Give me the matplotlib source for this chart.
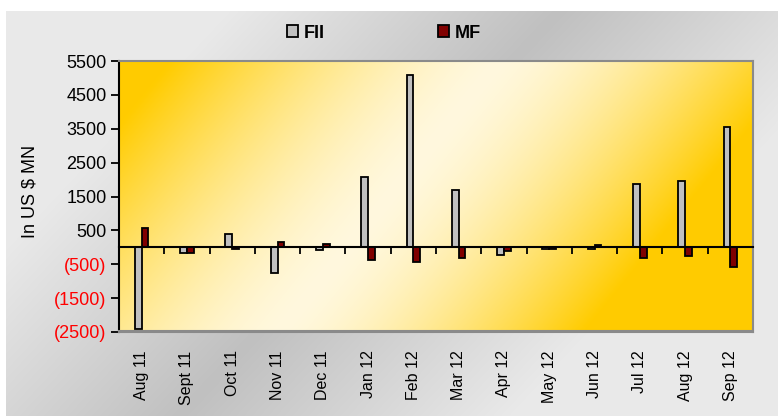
import numpy as np
import matplotlib.pyplot as plt
from matplotlib.patches import Rectangle

plt.rcParams['font.family'] = ['Liberation Sans', 'DejaVu Sans']

months = ['Aug 11', 'Sept 11', 'Oct 11', 'Nov 11', 'Dec 11', 'Jan 12', 'Feb 12',
          'Mar 12', 'Apr 12', 'May 12', 'Jun 12', 'Jul 12', 'Aug 12', 'Sep 12']
fii = [-2410, -170, 380, -750, -70, 2070, 5100, 1700, -240, -50, -50, 1870, 1970, 3560]
mf = [570, -180, -60, 160, 110, -380, -430, -330, -120, -50, 60, -330, -270, -570]
yticks = [5500, 4500, 3500, 2500, 1500, 500, -500, -1500, -2500]

W, H = 778, 416


def band_gradient(x0, x1, y0, y1, p, q, c_mid, c_edge, d_neg, d_pos, power=1.0):
    # linear "diagonal" gradient in pixel space: c_mid on the line p-q, c_edge away from it
    X, Y = np.meshgrid(np.arange(x0, x1) + 0.5, np.arange(y0, y1) + 0.5)
    dx, dy = q[0] - p[0], q[1] - p[1]
    n = np.array([-dy, dx], float)
    n /= np.hypot(*n)
    if n[0] < 0:
        n = -n
    d = (X - p[0]) * n[0] + (Y - p[1]) * n[1]
    t = np.where(d < 0, -d / d_neg, d / d_pos).clip(0, 1) ** power
    c_mid = np.array(c_mid) / 255
    c_edge = np.array(c_edge) / 255
    return c_mid + (c_edge - c_mid) * t[..., None]


fig = plt.figure(figsize=(W / 100, H / 100), dpi=100, facecolor='white')

# grey panel behind everything
bg = fig.add_axes([6 / W, 0, 1 - 6 / W, 1 - 11 / H], zorder=-1)
bg.axis('off')
bg.imshow(band_gradient(6, W, 11, H, (560, 11), (180, 416), (192, 192, 192), (233, 233, 233), 240, 240),
          aspect='auto', extent=(0, 1, 0, 1))

left, right, top, bottom = 119, 753, 61, 332
ax = fig.add_axes([left / W, 1 - bottom / H, (right - left) / W, (bottom - top) / H])
ax.patch.set_alpha(0)

x = np.arange(len(months))
ax.set_xlim(-0.5, len(months) - 0.5)
ax.set_ylim(-2500, 5500)

gold = band_gradient(left, right, top, bottom, (500, 61), (280, 332), (255, 248, 222), (255, 204, 0),
                     255, 235, power=1.5)
ax.imshow(gold, aspect='auto', extent=(-0.5, len(months) - 0.5, -2500, 5500), zorder=0)

w = 0.15
ax.bar(x - w / 2, fii, w, color='#C0C0C0', edgecolor='black', linewidth=1.3, zorder=2, label='FII')
ax.bar(x + w / 2, mf, w, color='#800000', edgecolor='black', linewidth=1.3, zorder=2, label='MF')

# axes styling
ax.spines['bottom'].set_position(('data', 0))
ax.spines['bottom'].set_linewidth(1.5)
ax.spines['left'].set_linewidth(1.5)
for s in ('top', 'right'):
    ax.spines[s].set_color('#8a8a8a')
    ax.spines[s].set_linewidth(1.5)
ax.add_patch(Rectangle((0, 0), 1, 0.002, transform=ax.transAxes, facecolor='none',
                       edgecolor='#8a8a8a', linewidth=1.5, clip_on=False, zorder=3))

ax.set_xticks(np.arange(len(months) + 1) - 0.5)
ax.set_xticklabels([])
ax.tick_params(axis='x', direction='out', length=5, width=1.3)

ax.set_yticks(yticks)
ax.set_yticklabels([f'{v}' if v > 0 else f'({-v})' for v in yticks], fontsize=13)
for lbl, v in zip(ax.get_yticklabels(), yticks):
    lbl.set_color('black' if v > 0 else 'red')
ax.tick_params(axis='y', direction='out', length=6, width=1.3, pad=3)

for xi, m in zip(x, months):
    ax.text(xi, -0.068, m, transform=ax.get_xaxis_transform(), rotation=90,
            ha='center', va='top', fontsize=11.5)

fig.text(30 / W, 1 - 191 / H, 'In US $ MN', rotation=90, ha='center', va='center', fontsize=13)

fig.legend(loc='center', bbox_to_anchor=(384 / W, 1 - 33 / H), ncol=2, frameon=False,
           prop={'weight': 'bold', 'size': 13}, handlelength=0.6, handleheight=0.6,
           handletextpad=0.3, columnspacing=6.3)

fig.savefig('out.png', dpi=100)
